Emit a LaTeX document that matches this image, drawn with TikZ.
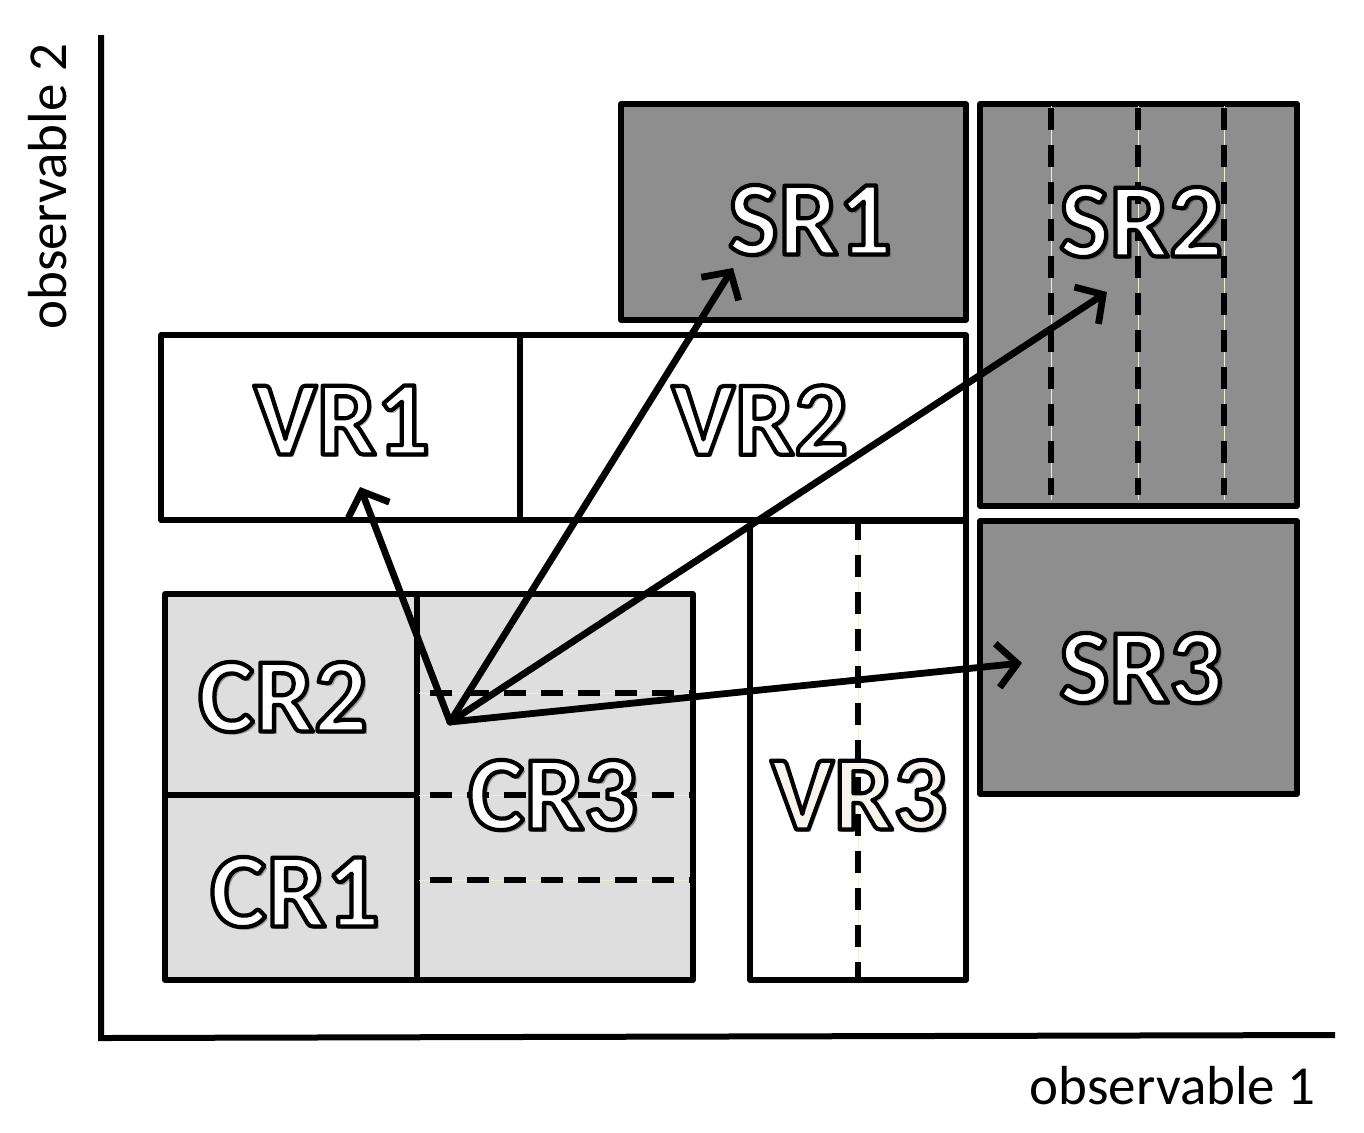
\documentclass[tikz,border=0pt]{standalone}
\usepackage{fontspec}
\setmainfont{Carlito}
\usetikzlibrary{arrows.meta,fit}
\definecolor{srgray}{HTML}{8E8E8E}
\definecolor{crgray}{HTML}{DEDEDE}
\definecolor{vrtext}{HTML}{F6F4EC}
\definecolor{dashlight}{HTML}{EEEED8}
\tikzset{
 box/.style={draw=black, line width=2.7pt, line join=round, inner sep=0pt},
 srbox/.style={box, fill=srgray},
 crbox/.style={box, fill=crgray},
 vrbox/.style={box, fill=white},
 divider/.style={line width=2.7pt},
 dashdiv/.style={line width=2.7pt, dash pattern=on 11pt off 7.5pt},
 lightline/.style={draw=dashlight, line width=0.5pt},
 lbl/.style={font=\fontsize{53}{60}\selectfont\bfseries, inner sep=0pt},
 axislbl/.style={font=\fontsize{27.5}{33}\selectfont, inner sep=0pt},
 arr/.style={line width=3.4pt, line cap=round, line join=round, -{Straight Barb[length=10pt,width=22pt]}},
 axisline/.style={line width=3pt}
}
\newcommand\outlinetext[1]{\special{pdf:code q 2 Tr 2.1 w 0 G 1 j}#1\special{pdf:code Q}}
\newcommand\regionlbl[4]{%
 \node[lbl, text=black, opacity=0.3] at ([shift={(3,3)}]#2) {#3};
 \node[lbl, text=#4] (#1) at (#2) {\outlinetext{#3}};
}
\begin{document}
\begin{tikzpicture}[x=0.5pt,y=-0.5pt]
\useasboundingbox (0,0) rectangle (1364,1132);
% axes
\coordinate (ytop) at (101,35);
\coordinate (orig) at (101,1038);
\coordinate (xend) at (1335,1035);
\draw[axisline] (ytop) -- (orig) -- (xend);
\node[axislbl, anchor=base east] (xl) at (1316,1104) {observable 1};
\node[axislbl, anchor=base west, rotate=90] (yl) at (66,330) {observable 2};

% signal regions
\node[srbox, fit={(621,104) (966,320)}] (SR1) {};
\node[srbox, fit={(980,104) (1297,506)}] (SR2) {};
\node[srbox, fit={(980,521) (1297,794)}] (SR3) {};
\foreach \x in {1051,1138,1224} {
  \draw[lightline] (\x,106) -- (\x,500);
  \draw[dashdiv] (\x,108) -- (\x,495);
}

% validation regions
\node[vrbox, fit={(161,335) (520,520)}] (VR1) {};
\node[vrbox, fit={(520,335) (966,520)}] (VR2) {};
\node[vrbox, fit={(750,521) (966,980)}] (VR3) {};
\draw[lightline] (VR3.north) -- (VR3.south);
\draw[dashdiv] (VR3.north) -- (VR3.south);

% control regions
\node[crbox, fit={(165,594) (693,980)}] (CR) {};
\coordinate (cdivt) at (417,594);
\coordinate (cdivb) at (417,980);
\draw[divider] (cdivt) -- (cdivb);
\coordinate (chl) at (162,795);
\coordinate (chr) at (417,795);
\draw[divider] (chl) -- (chr);
\foreach \y in {693,795,880} {
  \draw[lightline] (419,\y) -- (693,\y);
  \draw[dashdiv] (430,\y) -- (693,\y);
}

% labels
\coordinate (lSR1) at (810,220);
\coordinate (lSR2) at (1141,222);
\coordinate (lSR3) at (1141,668);
\coordinate (lVR1) at (342,420);
\coordinate (lVR2) at (760,420);
\coordinate (lVR3) at (859,795);
\coordinate (lCR1) at (295,892);
\coordinate (lCR2) at (283,697);
\coordinate (lCR3) at (553,795);
\regionlbl{tSR1}{lSR1}{SR1}{white}
\regionlbl{tSR2}{lSR2}{SR2}{white}
\regionlbl{tSR3}{lSR3}{SR3}{white}
\regionlbl{tVR1}{lVR1}{VR1}{white}
\regionlbl{tVR2}{lVR2}{VR2}{white}
\regionlbl{tVR3}{lVR3}{VR3}{vrtext}
\regionlbl{tCR1}{lCR1}{CR1}{white}
\regionlbl{tCR2}{lCR2}{CR2}{white}
\regionlbl{tCR3}{lCR3}{CR3}{white}

% arrows
\coordinate (o) at (450,722);
\coordinate (aVR1) at (360,487);
\coordinate (aSR1) at (733,268);
\coordinate (aSR2) at (1107,292);
\coordinate (aSR3) at (1022,663);
\draw[arr] (o) -- (aVR1);
\draw[arr] (o) -- (aSR1);
\draw[arr] (o) -- (aSR2);
\draw[arr] (o) -- (aSR3);
\end{tikzpicture}
\end{document}
